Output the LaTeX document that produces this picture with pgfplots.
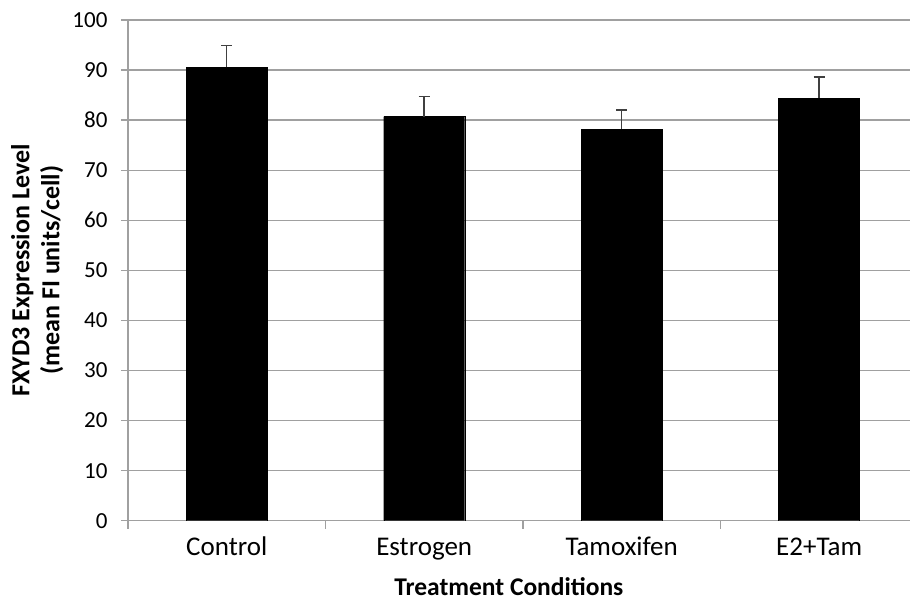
\documentclass[border=0pt]{standalone}
\usepackage{pgfplots}
\pgfplotsset{compat=1.18}
\usepackage{fontspec}
\setmainfont{Carlito}
\definecolor{gridgray}{HTML}{A0A0A0}
\definecolor{errgray}{HTML}{404040}
\begin{document}
\begin{tikzpicture}
\begin{axis}[
  at={(0pt,0pt)}, anchor=south west,
  scale only axis, width=782pt, height=500.7pt,
  ymin=0, ymax=100, ytick={0,10,...,100},
  xmin=-0.5, xmax=3.46,
  ybar, bar width=81pt,
  xtick={0,1,2,3},
  xticklabels={Control,Estrogen,Tamoxifen,E2+Tam},
  minor xtick={-0.5,0.5,1.5,2.5},
  major x tick style={draw=none},
  axis x line*=bottom, axis y line*=left,
  axis line style={-, gridgray, line width=1.3pt},
  ymajorgrids, grid style={gridgray, line width=1.3pt},
  tick align=outside,
  tick style={gridgray, line width=1.3pt},
  major tick length=7pt, minor tick length=8pt,
  /pgf/number format/assume math mode=true,
  xticklabel style={font=\fontsize{27}{32}\selectfont, text height=18pt, text depth=6pt, yshift=-6pt},
  yticklabel style={font=\fontsize{23}{27}\selectfont, xshift=-10pt},
  ylabel={FXYD3 Expression Level\\(mean FI units/cell)},
  xlabel={Treatment Conditions},
  every axis y label/.style={at={(axis description cs:-0.1160,0.5)}, rotate=90, anchor=center, align=center, font=\bfseries\fontsize{26}{30}\selectfont},
  every axis x label/.style={at={(axis description cs:0.487,0)}, anchor=south, inner sep=0pt, yshift=-75pt, font=\bfseries\fontsize{25.5}{30}\selectfont},
]
\addplot[fill=black, draw=black,
  error bars/.cd, y dir=plus, y explicit,
  error bar style={line width=1.5pt, color=errgray},
  error mark options={rotate=90, mark size=5.5pt, line width=1.5pt, color=errgray}]
  coordinates {
  (0,90.55) +- (0,4.4)
  (1,80.7) +- (0,4.0)
  (2,78.2) +- (0,3.8)
  (3,84.4) +- (0,4.2)
  };
\end{axis}
\pgfresetboundingbox
\path (-128pt,-77.3pt) rectangle (782pt,520.7pt);
\end{tikzpicture}
\end{document}
